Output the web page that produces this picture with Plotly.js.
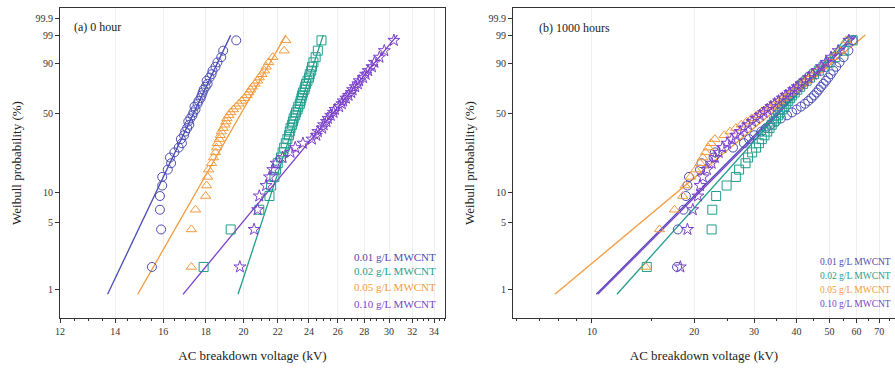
<!DOCTYPE html>
<html>
<head>
<meta charset="utf-8">
<script src="https://cdn.plot.ly/plotly-3.0.1.min.js"></script>
<style>html,body{margin:0;padding:0;background:#fff}#chart{width:895px;height:370px}</style>
</head>
<body>
<div id="chart"></div>
<script>
// ---- data ----
// plotting positions (cumulative failure probability, %) shared by all series (40 tests each)
const probPct = [1.73, 4.21, 6.68, 9.16, 11.63, 14.11, 16.58, 19.06, 21.53, 24.01,
  26.49, 28.96, 31.44, 33.91, 36.39, 38.86, 41.34, 43.81, 46.29, 48.76,
  51.24, 53.71, 56.19, 58.66, 61.14, 63.61, 66.09, 68.56, 71.04, 73.51,
  75.99, 78.47, 80.94, 83.42, 85.89, 88.37, 90.84, 93.32, 95.79, 98.27];

const seriesNames = ["0.01 g/L MWCNT", "0.02 g/L MWCNT", "0.05 g/L MWCNT", "0.10 g/L MWCNT"];

// (a) 0 hour — breakdown voltages (kV)
const a001 = [15.5, 15.9, 15.85, 15.85, 15.95, 15.95, 16.2, 16.35, 16.3, 16.5, 16.7, 16.85, 16.8, 16.95, 17.0, 17.1, 17.2, 17.15, 17.25, 17.35, 17.4, 17.5, 17.45, 17.6, 17.65, 17.75, 17.8, 17.85, 17.9, 18.0, 18.1, 18.05, 18.2, 18.3, 18.35, 18.5, 18.6, 18.8, 18.9, 19.6];
const a002 = [17.9, 19.3, 20.9, 21.5, 21.6, 21.8, 21.9, 22.0, 22.2, 22.3, 22.4, 22.5, 22.6, 22.7, 22.75, 22.8, 22.9, 22.95, 23.0, 23.1, 23.15, 23.25, 23.3, 23.4, 23.45, 23.5, 23.55, 23.6, 23.7, 23.75, 23.8, 23.9, 24.0, 24.05, 24.15, 24.2, 24.3, 24.45, 24.6, 24.85];
const a005 = [17.3, 17.3, 17.5, 18.0, 18.05, 18.1, 18.15, 18.3, 18.4, 18.5, 18.55, 18.6, 18.7, 18.75, 18.8, 18.9, 19.0, 19.05, 19.1, 19.2, 19.3, 19.45, 19.6, 19.75, 19.9, 20.05, 20.2, 20.3, 20.4, 20.5, 20.65, 20.8, 20.9, 21.05, 21.2, 21.3, 21.45, 21.7, 22.4, 22.5];
const a010 = [19.8, 20.6, 20.8, 20.9, 21.3, 21.5, 21.7, 21.9, 22.3, 22.8, 23.1, 23.6, 24.2, 24.5, 24.6, 24.9, 25.0, 25.2, 25.3, 25.5, 25.7, 25.8, 26.1, 26.3, 26.4, 26.6, 26.8, 27.0, 27.1, 27.3, 27.5, 27.6, 27.9, 28.1, 28.3, 28.6, 28.8, 29.2, 29.6, 30.4];

// (b) 1000 hours — breakdown voltages (kV)
const b001 = [17.8, 17.9, 18.6, 18.9, 19.1, 19.3, 20.8, 21.0, 22.8, 23.0, 26.0, 28.0, 29.0, 30.0, 31.5, 32.5, 33.5, 34.8, 36.0, 37.5, 38.8, 40.0, 41.2, 42.3, 43.3, 44.2, 45.0, 45.8, 46.5, 47.2, 48.0, 48.8, 49.6, 50.4, 51.3, 52.3, 53.5, 55.0, 56.8, 58.5];
const b002 = [14.5, 22.5, 22.6, 23.2, 24.9, 26.5, 27.1, 28.3, 28.8, 29.6, 30.4, 31.0, 31.6, 32.2, 32.8, 33.3, 33.8, 34.3, 34.8, 35.3, 35.8, 36.3, 36.8, 37.3, 37.8, 38.3, 38.8, 39.5, 40.2, 41.0, 41.8, 42.8, 43.8, 45.0, 46.5, 48.0, 50.0, 52.0, 55.0, 58.5];
const b005 = [14.4, 15.8, 17.5, 18.5, 18.8, 19.5, 20.2, 20.8, 21.2, 21.6, 22.0, 22.4, 23.0, 24.5, 25.5, 26.5, 27.5, 28.5, 29.5, 30.5, 31.5, 32.5, 33.5, 34.5, 35.5, 36.5, 37.5, 38.5, 39.5, 40.5, 41.5, 42.5, 43.5, 44.5, 46.0, 47.5, 49.0, 51.0, 53.5, 56.0];
const b010 = [18.2, 19.1, 19.8, 20.5, 20.8, 21.2, 21.8, 22.5, 23.0, 23.6, 24.2, 25.0, 25.8, 26.5, 27.3, 28.0, 28.8, 29.6, 30.4, 31.2, 32.0, 32.8, 33.6, 34.5, 35.4, 36.3, 37.2, 38.2, 39.2, 40.2, 41.2, 42.3, 43.4, 44.6, 45.9, 47.3, 48.8, 50.5, 53.0, 57.0];

// Weibull fit lines: end points (kV) at fitProb (%)
const fitProb = [0.9, 99];
const aFit001 = [13.7, 19.3];
const aFit002 = [19.7, 24.97];
const aFit005 = [14.9, 22.5];
const aFit010 = [16.9, 30.7];
const bFit001 = [10.3, 59.0];
const bFit002 = [11.85, 57.0];
const bFit005 = [7.78, 63.7];
const bFit010 = [10.4, 60.0];

// axis ticks
const probTicks = [1, 5, 10, 50, 90, 99, 99.9];
const aXTicks = [12, 14, 16, 18, 20, 22, 24, 26, 28, 30, 32, 34];
const bXTicks = [10, 20, 30, 40, 50, 60, 70];

// ---- styling ----
const colors = ["#4b4cb3", "#1f9e8c", "#f39a3d", "#7a3fca"];
const symbols = ["circle-open", "square-open", "triangle-up-open", "star-open"];
const FONT = "Liberation Serif, Times New Roman, serif";

// Weibull probability scale: ln(-ln(1-F))
const wb = p => Math.log(-Math.log(1 - p / 100));

const traces = [];
function addPanel(dataSets, fits, xa, ya) {
  dataSets.forEach((xs, i) => {
    traces.push({
      x: fits[i], y: fitProb.map(wb), xaxis: xa, yaxis: ya, mode: "lines",
      line: {color: colors[i], width: 1.3}, showlegend: false, hoverinfo: "skip"
    });
  });
  dataSets.forEach((xs, i) => {
    traces.push({
      x: xs, y: probPct.map(wb), xaxis: xa, yaxis: ya, mode: "markers", name: seriesNames[i],
      marker: {symbol: symbols[i], size: 9, color: colors[i], line: {width: 1.0, color: colors[i]}},
      showlegend: false
    });
  });
}
addPanel([a001, a002, a005, a010], [aFit001, aFit002, aFit005, aFit010], "x", "y");
addPanel([b001, b002, b005, b010], [bFit001, bFit002, bFit005, bFit010], "x2", "y2");

function minorVals(lo, hi, step) { const v = []; for (let t = lo; t <= hi + 1e-9; t += step) v.push(+t.toFixed(3)); return v; }

const W = 895, H = 370;
const px = x => x / W, py = y => 1 - y / H;
const yRange = [-5.276, 2.179];

const yAxisBase = {
  range: yRange, tickmode: "array", tickvals: probTicks.map(wb), ticktext: probTicks.map(String),
  ticks: "outside", ticklen: 4, tickcolor: "#333", showline: true, linecolor: "#333", linewidth: 1,
  mirror: true, showgrid: false, zeroline: false, tickfont: {family: FONT, size: 10, color: "#333"},
  title: {text: "Weibull probability (%)", font: {family: FONT, size: 13, color: "#222"}, standoff: 10},
  automargin: false
};
const xAxisBase = {
  type: "log", tickmode: "array", ticks: "outside", ticklen: 4, tickcolor: "#333",
  showline: true, linecolor: "#333", linewidth: 1, mirror: true, zeroline: false,
  showgrid: true, gridcolor: "#efefef", gridwidth: 1,
  tickfont: {family: FONT, size: 10, color: "#333"},
  title: {text: "AC breakdown voltage (kV)", font: {family: FONT, size: 13, color: "#222"}, standoff: 14},
  automargin: false
};

const layout = {
  width: W, height: H, margin: {l: 0, r: 0, t: 0, b: 0},
  paper_bgcolor: "#fff", plot_bgcolor: "#fff", showlegend: false,
  font: {family: FONT},
  xaxis: Object.assign({}, xAxisBase, {
    domain: [px(60), px(445)], range: [Math.log10(12), Math.log10(35.05)], anchor: "y",
    tickvals: aXTicks, ticktext: aXTicks.map(String),
    minor: {tickmode: "array", tickvals: minorVals(12, 35, 0.5), ticks: "outside", ticklen: 2, tickcolor: "#333", showgrid: false}
  }),
  yaxis: Object.assign({}, yAxisBase, {domain: [py(318), py(8)], anchor: "x"}),
  xaxis2: Object.assign({}, xAxisBase, {
    domain: [px(513), 1], range: [Math.log10(5.86), Math.log10(77.9)], anchor: "y2",
    tickvals: bXTicks, ticktext: bXTicks.map(String),
    minor: {tickmode: "array", tickvals: [6, 7, 8, 9, 15, 25, 35, 45, 55, 65, 75], ticks: "outside", ticklen: 2, tickcolor: "#333", showgrid: false}
  }),
  yaxis2: Object.assign({}, yAxisBase, {domain: [py(318), py(8)], anchor: "x2"}),
  annotations: []
};

layout.annotations.push({text: "(a) 0 hour", xref: "paper", yref: "paper", x: px(72), y: py(27), xanchor: "left", yanchor: "middle", showarrow: false, font: {family: FONT, size: 12, color: "#222"}});
layout.annotations.push({text: "(b) 1000 hours", xref: "paper", yref: "paper", x: px(537), y: py(28), xanchor: "left", yanchor: "middle", showarrow: false, font: {family: FONT, size: 12, color: "#222"}});

const legA = [257, 271, 287, 304], legB = [262, 276, 290, 304];
seriesNames.forEach((n, i) => {
  layout.annotations.push({text: n, xref: "paper", yref: "paper", x: px(438), y: py(legA[i]), xanchor: "right", yanchor: "middle", showarrow: false, font: {family: FONT, size: 11, color: colors[i]}});
  layout.annotations.push({text: n, xref: "paper", yref: "paper", x: px(893), y: py(legB[i]), xanchor: "right", yanchor: "middle", showarrow: false, font: {family: FONT, size: 9.5, color: colors[i]}});
});

Plotly.newPlot("chart", traces, layout, {staticPlot: true, displayModeBar: false});
</script>
</body>
</html>
